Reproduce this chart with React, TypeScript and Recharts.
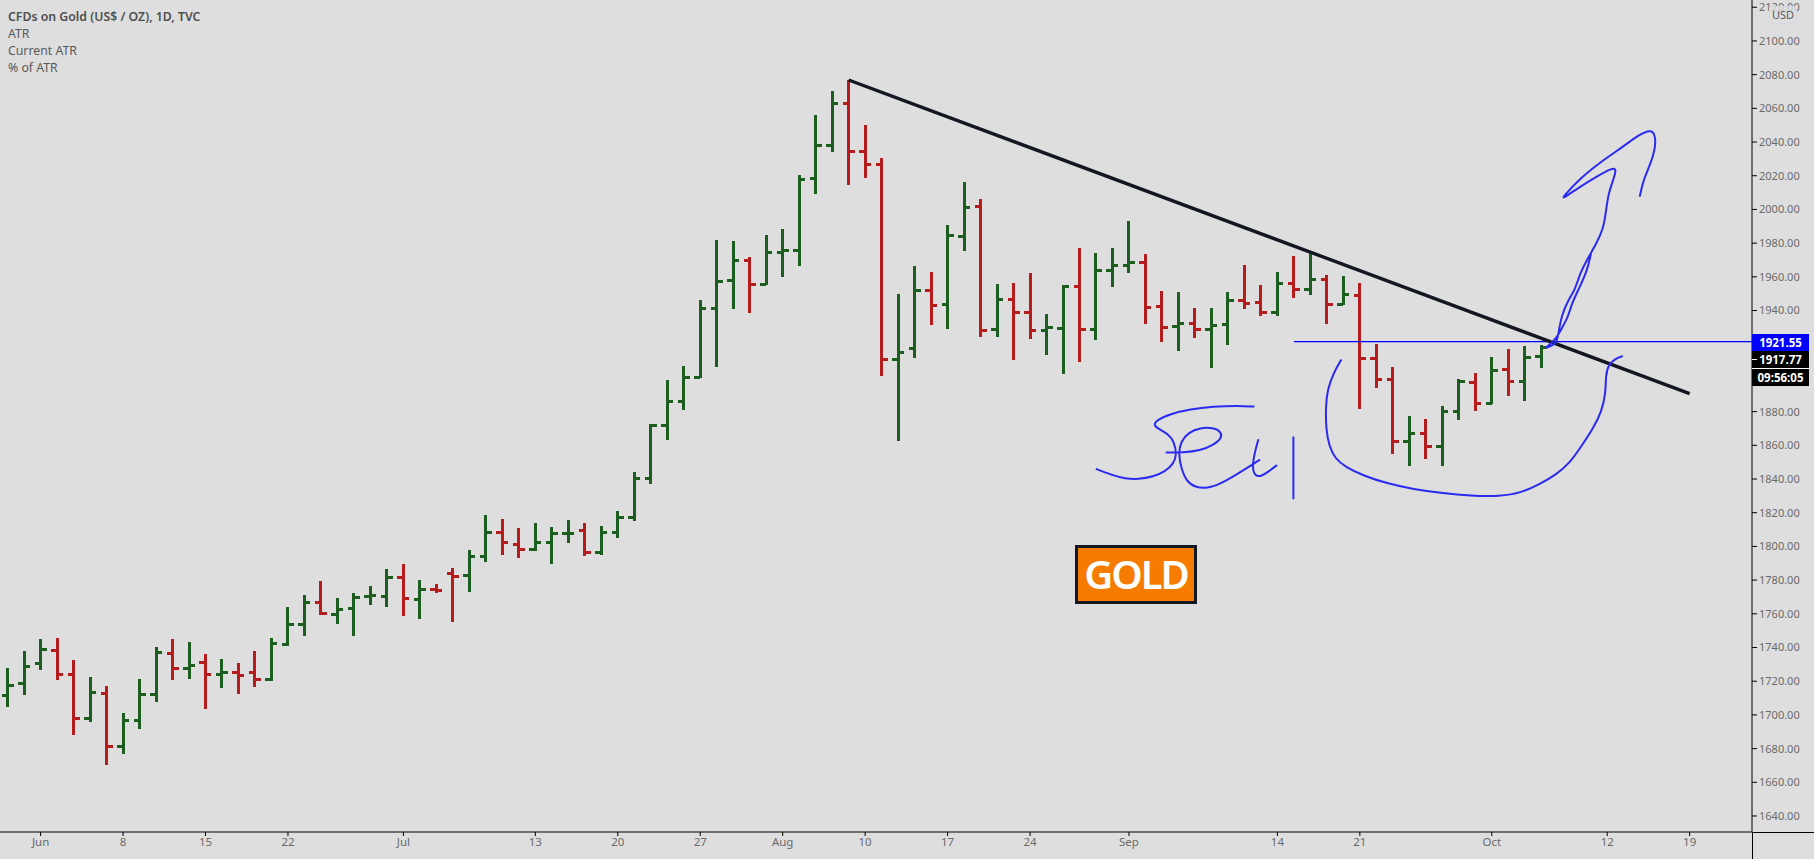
import React from 'react';
import { ComposedChart, Bar, Line, XAxis, YAxis } from 'recharts';

// bar number 0 is the 1st of June, the two bars before it are the end of May
const firstBar = -2;

const opens = [
  1711.6, 1718.7, 1730.6, 1738.3, 1724.1, 1697.9, 1712.8, 1681.3, 1696.7, 1712.2,
  1736.5, 1727.6, 1731.2, 1724.1, 1725.2, 1725.2, 1721.1, 1741.9, 1753.7, 1766.8,
  1759.7, 1763.2, 1770.4, 1770.4, 1781.6, 1768.6, 1774.5, 1784.0, 1782.8, 1794.1,
  1808.3, 1801.2, 1798.2, 1802.4, 1807.7, 1809.5, 1796.3, 1808.3, 1817.2, 1840.4,
  1871.9, 1886.1, 1900.3, 1941.3, 1957.9, 1969.8, 1955.5, 1974.5, 1975.7, 2018.5,
  2038.0, 2063.0, 2034.5, 2026.8, 1911.0, 1917.6, 1952.0, 1943.7, 1984.0, 2001.8,
  1928.8, 1946.6, 1938.9, 1928.2, 1929.4, 1954.4, 1928.8, 1963.9, 1966.8, 1968.6,
  1942.5, 1930.6, 1932.4, 1928.8, 1931.8, 1946.0, 1944.9, 1938.9, 1956.1, 1952.6,
  1958.5, 1943.7, 1949.0, 1911.6, 1899.2, 1862.4, 1867.1, 1859.4, 1880.2, 1897.4,
  1884.9, 1905.1, 1898.0, 1912.8,
];
const highs = [
  1727.6, 1737.7, 1744.8, 1745.4, 1732.4, 1722.3, 1716.9, 1700.9, 1721.1, 1740.1,
  1744.8, 1743.0, 1735.9, 1733.0, 1730.6, 1737.7, 1745.4, 1763.8, 1771.0, 1779.3,
  1769.2, 1772.1, 1776.3, 1786.4, 1789.3, 1779.8, 1777.5, 1787.0, 1797.6, 1818.4,
  1816.0, 1810.7, 1813.7, 1811.3, 1815.5, 1813.7, 1811.9, 1820.8, 1844.0, 1872.4,
  1898.6, 1906.9, 1946.0, 1981.7, 1981.1, 1971.6, 1984.6, 1988.2, 2020.2, 2055.9,
  2070.1, 2076.8, 2049.9, 2030.3, 1949.6, 1966.2, 1962.7, 1990.6, 2016.5, 2006.3,
  1955.5, 1956.1, 1962.1, 1937.7, 1955.0, 1976.9, 1974.0, 1976.9, 1992.9, 1973.3,
  1951.4, 1950.8, 1941.3, 1941.3, 1950.8, 1966.8, 1955.0, 1962.7, 1972.2, 1973.9,
  1960.9, 1960.3, 1956.1, 1919.9, 1906.3, 1877.2, 1875.4, 1883.1, 1899.2, 1902.7,
  1912.2, 1917.0, 1918.8, 1919.3,
];
const lows = [
  1704.9, 1712.0, 1726.8, 1720.9, 1688.2, 1696.0, 1670.4, 1677.0, 1691.8, 1707.8,
  1720.9, 1721.5, 1703.7, 1716.1, 1712.6, 1716.7, 1720.3, 1741.0, 1747.0, 1759.5,
  1754.1, 1747.0, 1765.4, 1764.2, 1758.9, 1757.1, 1772.1, 1755.3, 1773.1, 1790.9,
  1795.1, 1793.3, 1797.5, 1789.7, 1802.2, 1794.5, 1795.1, 1805.2, 1815.3, 1837.2,
  1863.3, 1881.2, 1899.7, 1906.7, 1941.1, 1938.7, 1954.9, 1960.1, 1966.6, 2009.4,
  2034.3, 2014.7, 2018.9, 1901.3, 1862.8, 1912.0, 1931.6, 1929.2, 1975.5, 1924.5,
  1924.5, 1910.8, 1923.3, 1913.8, 1902.5, 1909.6, 1922.7, 1954.2, 1962.5, 1932.2,
  1921.5, 1916.2, 1923.9, 1906.1, 1919.7, 1941.1, 1936.9, 1936.9, 1947.6, 1949.4,
  1932.2, 1943.1, 1881.7, 1894.2, 1855.0, 1847.9, 1852.1, 1847.9, 1875.2, 1880.6,
  1884.3, 1889.5, 1886.5, 1906.1,
];
const closes = [
  1717.5, 1728.8, 1738.9, 1724.1, 1697.9, 1713.4, 1681.3, 1696.7, 1712.2, 1737.1,
  1727.6, 1729.4, 1724.1, 1725.2, 1723.5, 1721.1, 1742.4, 1753.7, 1766.8, 1760.3,
  1762.6, 1769.8, 1771.0, 1781.6, 1769.2, 1774.5, 1773.9, 1782.2, 1794.1, 1808.3,
  1802.4, 1798.2, 1802.4, 1807.7, 1807.7, 1796.5, 1808.3, 1817.2, 1840.4, 1871.9,
  1886.1, 1900.3, 1941.3, 1957.3, 1969.8, 1955.5, 1974.5, 1975.7, 2017.9, 2038.0,
  2063.0, 2034.5, 2026.8, 1911.0, 1915.2, 1952.0, 1943.1, 1984.6, 2001.2, 1928.2,
  1946.6, 1938.9, 1928.2, 1930.0, 1954.4, 1928.8, 1963.9, 1966.8, 1968.6, 1941.9,
  1930.0, 1932.4, 1928.8, 1931.2, 1946.0, 1944.3, 1938.9, 1956.1, 1952.6, 1958.5,
  1943.7, 1949.6, 1911.6, 1899.2, 1862.4, 1867.1, 1859.4, 1880.2, 1898.0, 1884.9,
  1904.5, 1898.0, 1912.2, 1917.8,
];

// 1900 and 1920 sit behind the price boxes in the reference
const priceTicks = [
  1640, 1660, 1680, 1700, 1720, 1740, 1760, 1780, 1800, 1820, 1840, 1860, 1880,
  1940, 1960, 1980, 2000, 2020, 2040, 2060, 2080, 2100, 2120,
];
const dateTicks = [0, 5, 10, 15, 22, 30, 35, 40, 45, 50, 55, 60, 66, 75, 80, 88, 95, 100];
const dateLabels = ['Jun', '8', '15', '22', 'Jul', '13', '20', '27', 'Aug', '10', '17', '24', 'Sep', '14', '21', 'Oct', '12', '19'];

// drawings, as [bar number, price]
const trendLine = [[49, 2076.8], [100, 1890.7]];
const levelLine = [[76, 1921.55], [103.78, 1921.55]];
const scribbleS = [
  [63.99, 1846.0], [64.96, 1842.4], [65.76, 1840.2], [66.57, 1839.8], [67.48, 1841.4], [68.19, 1844.4],
  [68.7, 1849.0], [68.9, 1854.3], [68.74, 1862.2], [68.39, 1866.7], [67.79, 1869.7], [67.48, 1872.1],
  [67.69, 1875.0], [68.49, 1878.6], [69.71, 1881.4], [71.12, 1883.0], [72.54, 1883.6], [73.61, 1883.0],
];
const scribbleE = [
  [68.23, 1855.7], [69.3, 1855.7], [70.31, 1856.8], [71.12, 1860.2], [71.63, 1864.2], [71.59, 1868.1],
  [71.12, 1870.5], [70.31, 1870.5], [69.61, 1867.7], [69.14, 1862.2], [69.0, 1855.3], [69.16, 1846.4],
  [69.5, 1838.4], [70.01, 1835.1], [70.72, 1834.3], [71.53, 1837.1], [72.54, 1842.8], [73.34, 1847.7], [73.95, 1851.5],
];
const scribbleT = [
  [73.85, 1863.6], [73.61, 1855.3], [73.47, 1846.4], [73.65, 1841.8], [73.99, 1841.4], [74.46, 1844.4], [74.98, 1848.3],
];
const scribbleBar = [[75.97, 1865.2], [75.97, 1828.0]];
const scribbleBowl = [
  [78.88, 1911.0], [78.39, 1902.7], [78.03, 1892.8], [77.93, 1882.9], [77.95, 1869.1], [78.15, 1859.2],
  [78.49, 1852.3], [79.1, 1847.3], [80.21, 1842.0], [81.63, 1837.4], [83.24, 1833.9], [85.06, 1831.5],
  [86.68, 1830.1], [88.5, 1829.7], [89.81, 1831.9], [90.92, 1837.0], [91.93, 1842.8], [92.7, 1849.3],
  [93.35, 1858.2], [94.16, 1870.1], [94.66, 1880.0], [94.91, 1890.8], [94.91, 1901.7], [95.07, 1907.7],
  [95.47, 1911.4], [95.94, 1913.0],
];
const scribbleArrow = [
  [94.02, 1974.0], [93.8, 1964.1], [93.35, 1954.2], [92.85, 1944.3], [92.64, 1936.4], [92.24, 1929.5],
  [91.98, 1924.5], [91.53, 1919.6], [91.19, 1917.6], [91.53, 1918.6], [91.94, 1920.5], [92.04, 1926.5],
  [92.24, 1937.4], [92.64, 1946.3], [93.05, 1952.2], [93.35, 1962.1], [93.76, 1970.0], [94.36, 1979.9],
  [94.77, 1988.8], [94.91, 1997.7], [95.07, 2009.6], [95.37, 2017.5], [95.58, 2024.4], [95.27, 2024.4],
  [94.36, 2019.5], [93.35, 2013.5], [92.28, 2006.2], [92.34, 2007.6], [93.35, 2018.5], [94.77, 2029.4],
  [95.98, 2037.3], [96.89, 2044.2], [97.7, 2047.8], [97.94, 2043.2], [97.9, 2035.3], [97.6, 2026.4],
  [97.19, 2017.5], [96.97, 2007.6],
];
const scribbles = [scribbleS, scribbleE, scribbleT, scribbleBar, scribbleBowl, scribbleArrow];

const bars = opens.map((open, i) => ({
  bar: firstBar + i,
  open,
  high: highs[i],
  low: lows[i],
  close: closes[i],
}));

const toPoints = (line: number[][]) => line.map(([bar, price]) => ({ bar, price }));

const UP = '#1b5e20';
const DOWN = '#b71c1c';
const FONT = '"Noto Sans", sans-serif';

const OhlcBar = (props: any) => {
  const { x, y, width, height, payload } = props;
  const cx = x + width / 2;
  const perUnit = height / (payload.high - payload.low);
  const openY = y + (payload.high - payload.open) * perUnit;
  const closeY = y + (payload.high - payload.close) * perUnit;
  const color = payload.close >= payload.open ? UP : DOWN;
  return (
    <g stroke={color} strokeWidth={3} shapeRendering="crispEdges">
      <line x1={cx} x2={cx} y1={y} y2={y + height} />
      <line x1={cx - 6} x2={cx} y1={openY} y2={openY} />
      <line x1={cx} x2={cx + 6} y1={closeY} y2={closeY} />
    </g>
  );
};

const labelStyle: React.CSSProperties = {
  position: 'absolute',
  left: 8,
  font: `12.3px ${FONT}`,
  color: '#5a5a5a',
  whiteSpace: 'nowrap',
};

const priceBox = (top: number, height: number, background: string, text: string, width: number) => (
  <div
    style={{
      position: 'absolute',
      left: 1752,
      top,
      width,
      height,
      background,
      color: '#fff',
      font: `bold 11.5px ${FONT}`,
      lineHeight: `${height}px`,
      textAlign: 'center',
    }}
  >
    {text}
  </div>
);

export default function App() {
  return (
    <div style={{ position: 'absolute', left: 0, top: 0, width: 1814, height: 859, background: '#dedede', overflow: 'hidden' }}>
      <ComposedChart width={1814} height={859} data={bars} margin={{ top: 0, right: 0, bottom: 0, left: 0 }}>
        <XAxis
          dataKey="bar"
          type="number"
          domain={[-2.462, 103.78]}
          allowDataOverflow
          ticks={dateTicks}
          tickFormatter={(v: number) => dateLabels[dateTicks.indexOf(v)]}
          height={27}
          interval={0}
          tick={{ fill: '#6a6a6a', fontSize: 11.5, fontFamily: FONT }}
          tickSize={4}
          stroke="#000"
        />
        <YAxis
          orientation="right"
          type="number"
          domain={[1630.5, 2124.3]}
          allowDataOverflow
          ticks={priceTicks}
          tickFormatter={(v: number) => v.toFixed(2)}
          width={62}
          interval={0}
          tick={{ fill: '#6a6a6a', fontSize: 11, fontFamily: FONT }}
          tickSize={5}
          stroke="#000"
        />
        <Bar dataKey={(d: any) => [d.low, d.high]} barSize={14} shape={OhlcBar} isAnimationActive={false} />
        <Line data={toPoints(levelLine)} dataKey="price" stroke="#0000ff" strokeWidth={1.2} dot={false} activeDot={false} isAnimationActive={false} />
        <Line data={toPoints(trendLine)} dataKey="price" stroke="#131722" strokeWidth={3.4} dot={false} activeDot={false} isAnimationActive={false} />
        {scribbles.map((s, i) => (
          <Line
            key={i}
            data={toPoints(s)}
            dataKey="price"
            type="basis"
            stroke="#2a2af0"
            strokeWidth={2}
            strokeLinejoin="round"
            dot={false}
            activeDot={false}
            isAnimationActive={false}
          />
        ))}
      </ComposedChart>

      {/* axis lines run on past the corner */}
      <div style={{ position: 'absolute', left: 1752, top: 832, width: 62, height: 1, background: '#000' }} />
      <div style={{ position: 'absolute', left: 1752, top: 832, width: 1, height: 27, background: '#000' }} />

      <div style={{ ...labelStyle, top: 8, fontWeight: 600, color: '#4f4f4f' }}>CFDs on Gold (US$ / OZ), 1D, TVC</div>
      <div style={{ ...labelStyle, top: 25 }}>ATR</div>
      <div style={{ ...labelStyle, top: 42 }}>Current ATR</div>
      <div style={{ ...labelStyle, top: 59 }}>% of ATR</div>

      <div
        style={{
          position: 'absolute',
          left: 1769,
          top: 6,
          width: 26,
          height: 16,
          border: '1px solid #d6d6e0',
          borderRadius: 3,
          background: '#dededecc',
          color: '#5a5a5a',
          font: `11px ${FONT}`,
          lineHeight: '16px',
          textAlign: 'center',
        }}
      >
        USD
      </div>

      {priceBox(334, 17, '#0000ff', '1921.55', 57)}
      {priceBox(351, 17, '#000', '1917.77', 57)}
      <div style={{ position: 'absolute', left: 1752, top: 368, width: 57, height: 1, background: '#fff' }} />
      <div style={{ position: 'absolute', left: 1752, top: 359, width: 5, height: 1, background: '#fff' }} />
      {priceBox(369, 17, '#000', '09:56:05', 57)}

      <div
        style={{
          position: 'absolute',
          left: 1075,
          top: 545,
          width: 116,
          height: 53,
          border: '3px solid #131722',
          background: '#f57c00',
          color: '#fff',
          font: `600 40px ${FONT}`,
          letterSpacing: -2,
          lineHeight: '52px',
          textAlign: 'center',
        }}
      >
        GOLD
      </div>
    </div>
  );
}
